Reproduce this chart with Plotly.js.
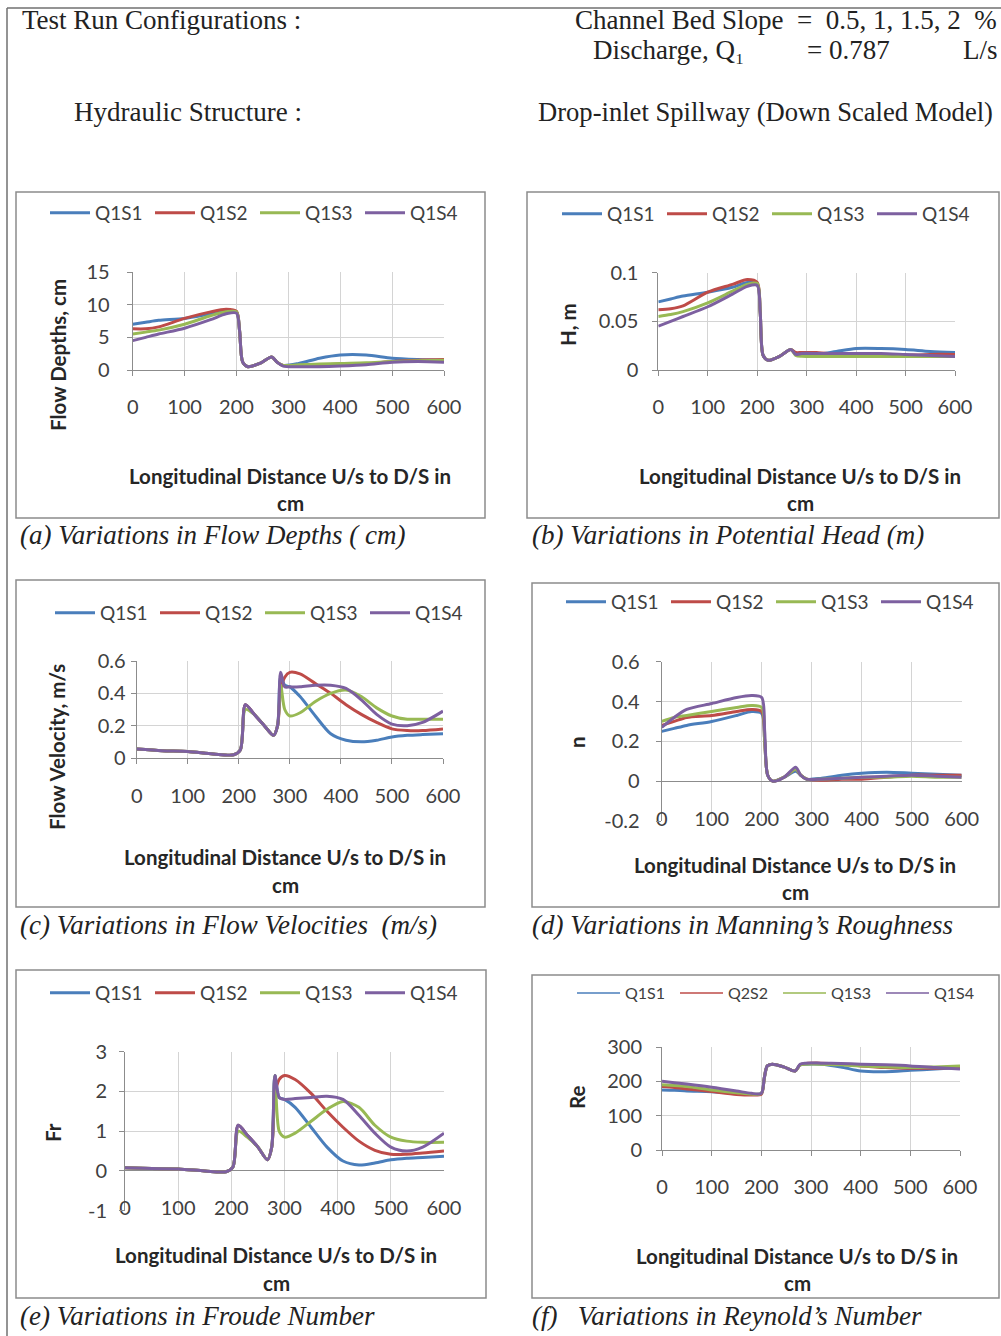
<!DOCTYPE html>
<html><head><meta charset="utf-8">
<script src="https://cdn.plot.ly/plotly-3.0.1.min.js"></script>
<style>html,body{margin:0;padding:0;background:#fff}#chart{width:1001px;height:1336px}</style>
</head><body><div id="chart"></div>
<script>
// ---------------- DATA ----------------
const seriesNames = ['Q1S1', 'Q1S2', 'Q1S3', 'Q1S4'];
const seriesNamesRe = ['Q1S1', 'Q2S2', 'Q1S3', 'Q1S4'];
const seriesColors = ['#4A7EBB', '#BE4B48', '#98B954', '#7D60A0'];

const xTicks = [0, 100, 200, 300, 400, 500, 600];

// distances (cm) for depth / head / manning / Reynolds
const xA = [0, 25, 50, 100, 150, 180, 200, 206, 212, 222, 245, 268, 278, 290, 320, 360, 400, 450, 500, 550, 600];
// distances (cm) for velocity / Froude
const xC = [0, 50, 100, 150, 190, 203, 213, 230, 250, 268, 276, 282, 290, 300, 320, 350, 380, 410, 440, 470, 500, 530, 560, 600];

// (a) Flow depths, cm
const depthQ1S1 = [7.0, 7.3, 7.6, 7.9, 8.6, 9.0, 8.9, 6.0, 1.2, 0.5, 1.0, 2.0, 1.2, 0.7, 1.0, 1.8, 2.3, 2.3, 1.8, 1.6, 1.5];
const depthQ1S2 = [6.3, 6.3, 6.6, 7.9, 8.9, 9.3, 9.0, 6.0, 1.2, 0.5, 1.0, 2.0, 1.2, 0.7, 0.7, 0.8, 0.9, 1.0, 1.3, 1.5, 1.6];
const depthQ1S3 = [5.5, 5.8, 6.1, 7.0, 8.3, 8.9, 8.9, 6.0, 1.2, 0.5, 1.0, 2.0, 1.2, 0.7, 0.8, 0.9, 1.0, 1.1, 1.3, 1.4, 1.5];
const depthQ1S4 = [4.5, 5.0, 5.5, 6.4, 7.7, 8.6, 8.7, 6.0, 1.2, 0.5, 1.0, 2.0, 1.2, 0.6, 0.5, 0.5, 0.6, 0.8, 1.2, 1.3, 1.2];

// (b) Potential head, m
const headQ1S1 = [0.070, 0.073, 0.076, 0.080, 0.085, 0.090, 0.088, 0.060, 0.015, 0.010, 0.014, 0.021, 0.017, 0.015, 0.016, 0.019, 0.022, 0.022, 0.021, 0.019, 0.018];
const headQ1S2 = [0.062, 0.063, 0.066, 0.080, 0.088, 0.093, 0.090, 0.060, 0.015, 0.010, 0.014, 0.021, 0.018, 0.018, 0.018, 0.016, 0.014, 0.014, 0.015, 0.016, 0.016];
const headQ1S3 = [0.055, 0.057, 0.060, 0.069, 0.081, 0.088, 0.089, 0.060, 0.015, 0.010, 0.014, 0.021, 0.015, 0.014, 0.014, 0.014, 0.014, 0.014, 0.014, 0.014, 0.014];
const headQ1S4 = [0.045, 0.050, 0.055, 0.065, 0.078, 0.086, 0.087, 0.060, 0.015, 0.010, 0.014, 0.021, 0.016, 0.017, 0.017, 0.017, 0.017, 0.017, 0.016, 0.015, 0.014];

// (c) Flow velocity, m/s
const velQ1S1 = [0.055, 0.045, 0.04, 0.025, 0.02, 0.05, 0.33, 0.27, 0.2, 0.14, 0.2, 0.5, 0.45, 0.44, 0.38, 0.26, 0.15, 0.11, 0.10, 0.11, 0.13, 0.14, 0.145, 0.15];
const velQ1S2 = [0.055, 0.045, 0.04, 0.025, 0.02, 0.05, 0.33, 0.27, 0.2, 0.14, 0.2, 0.42, 0.5, 0.53, 0.52, 0.46, 0.40, 0.33, 0.27, 0.22, 0.18, 0.17, 0.17, 0.18];
const velQ1S3 = [0.055, 0.045, 0.04, 0.025, 0.02, 0.05, 0.30, 0.27, 0.2, 0.14, 0.2, 0.45, 0.3, 0.26, 0.28, 0.35, 0.40, 0.42, 0.38, 0.31, 0.26, 0.24, 0.24, 0.24];
const velQ1S4 = [0.055, 0.045, 0.04, 0.025, 0.02, 0.05, 0.33, 0.27, 0.2, 0.14, 0.2, 0.53, 0.44, 0.44, 0.44, 0.45, 0.45, 0.43, 0.36, 0.27, 0.21, 0.20, 0.22, 0.29];

// (d) Manning's roughness n
const manQ1S1 = [0.25, 0.265, 0.28, 0.30, 0.33, 0.35, 0.34, 0.20, 0.03, 0.0, 0.02, 0.05, 0.03, 0.01, 0.015, 0.03, 0.04, 0.045, 0.04, 0.035, 0.03];
const manQ1S2 = [0.28, 0.30, 0.32, 0.33, 0.35, 0.36, 0.35, 0.20, 0.03, 0.0, 0.02, 0.06, 0.03, 0.01, 0.005, 0.01, 0.01, 0.02, 0.03, 0.03, 0.03];
const manQ1S3 = [0.30, 0.32, 0.33, 0.35, 0.37, 0.38, 0.37, 0.20, 0.03, 0.0, 0.02, 0.06, 0.03, 0.01, 0.01, 0.015, 0.02, 0.02, 0.025, 0.02, 0.02];
const manQ1S4 = [0.27, 0.32, 0.36, 0.39, 0.42, 0.43, 0.42, 0.25, 0.03, 0.0, 0.02, 0.07, 0.03, 0.01, 0.01, 0.015, 0.02, 0.025, 0.03, 0.025, 0.02];

// (e) Froude number
const frQ1S1 = [0.08, 0.06, 0.05, 0.0, -0.02, 0.1, 1.15, 0.9, 0.6, 0.28, 0.6, 2.4, 1.85, 1.8, 1.6, 1.1, 0.6, 0.25, 0.15, 0.2, 0.28, 0.32, 0.34, 0.37];
const frQ1S2 = [0.08, 0.06, 0.05, 0.0, -0.02, 0.1, 1.15, 0.9, 0.6, 0.28, 0.6, 1.9, 2.3, 2.4, 2.3, 1.95, 1.5, 1.1, 0.75, 0.52, 0.42, 0.42, 0.45, 0.5];
const frQ1S3 = [0.08, 0.06, 0.05, 0.0, -0.02, 0.1, 1.0, 0.85, 0.6, 0.28, 0.6, 2.4, 1.0, 0.85, 0.95, 1.25, 1.55, 1.75, 1.6, 1.15, 0.85, 0.75, 0.72, 0.72];
const frQ1S4 = [0.08, 0.06, 0.05, 0.0, -0.02, 0.1, 1.15, 0.9, 0.6, 0.28, 0.6, 2.4, 1.85, 1.8, 1.82, 1.85, 1.88, 1.8, 1.4, 0.95, 0.6, 0.5, 0.6, 0.95];

// (f) Reynolds number
const reQ1S1 = [175, 174, 172, 170, 165, 162, 165, 210, 245, 250, 242, 230, 248, 250, 250, 242, 230, 228, 232, 236, 240];
const reQ2S2 = [185, 182, 178, 170, 162, 160, 163, 210, 245, 250, 242, 230, 248, 252, 253, 250, 245, 240, 238, 238, 240];
const reQ1S3 = [190, 188, 185, 175, 167, 163, 165, 210, 245, 250, 242, 230, 248, 250, 250, 248, 245, 242, 240, 242, 245];
const reQ1S4 = [200, 196, 192, 183, 172, 165, 165, 210, 245, 250, 242, 230, 250, 253, 253, 252, 250, 248, 245, 240, 236];

// tick labels
const yTicksA = [0, 5, 10, 15];
const yTicksB = [0, 0.05, 0.1];
const yTicksC = [0, 0.2, 0.4, 0.6];
const yTicksD = [-0.2, 0, 0.2, 0.4, 0.6];
const yTickTextD = ['-0.2', '0', '0.2', '0.4', '0.6'];
const yTicksE = [-1, 0, 1, 2, 3];
const yTickTextE = ['-1', '0', '1', '2', '3'];
const yTicksF = [0, 100, 200, 300];

const xTitleLine1 = 'Longitudinal Distance U/s to D/S in';
const xTitleLine2 = 'cm';

// ---------------- LAYOUT HELPERS ----------------
const W = 1001, H = 1336;
const fx = p => p / W;
const fy = p => 1 - p / H;

const TICKFONT = {family: 'Lato, sans-serif', size: 20, color: '#404040'};
const TITLEFONT = {family: 'Lato, sans-serif', size: 20.5, color: '#262626', weight: 'bold'};
const SERIF = 'Liberation Serif, Times New Roman, serif';

const panels = [
  {id: '', plot: [132.7, 444, 272, 370], yr: [0, 15], yt: yTicksA, ytt: null, sets: [depthQ1S1, depthQ1S2, depthQ1S3, depthQ1S4], xs: xA, names: seriesNames,
   leg: [45, 213], ytitle: 'Flow Depths, cm', ytp: [58, 355], xtp: [290, 476, 503], cap: '(a) Variations in Flow Depths ( cm)', capp: [18, 535], box: [16, 485, 192, 518], low: false, xstand: 14, ystand: 13},
  {id: '2', plot: [658.3, 955, 272.7, 370], yr: [0, 0.1], yt: yTicksB, ytt: null, sets: [headQ1S1, headQ1S2, headQ1S3, headQ1S4], xs: xA, names: seriesNames,
   leg: [557, 214], ytitle: 'H, m', ytp: [568, 325], xtp: [800, 476, 503], cap: '(b) Variations in Potential Head (m)', capp: [530, 535], box: [527, 999, 192, 518], low: false, xstand: 14, ystand: 10},
  {id: '3', plot: [136.7, 443, 661, 758], yr: [0, 0.6], yt: yTicksC, ytt: null, sets: [velQ1S1, velQ1S2, velQ1S3, velQ1S4], xs: xC, names: seriesNames,
   leg: [50, 613], ytitle: 'Flow Velocity, m/s', ytp: [57, 747], xtp: [285, 857, 885], cap: '(c) Variations in Flow Velocities  (m/s)', capp: [18, 925], box: [16, 485, 580, 907], low: false, xstand: 15, ystand: 1},
  {id: '4', plot: [661.7, 961.7, 661.7, 821], yr: [-0.2, 0.6], yt: yTicksD, ytt: yTickTextD, sets: [manQ1S1, manQ1S2, manQ1S3, manQ1S4], xs: xA, names: seriesNames,
   leg: [561, 602], ytitle: 'n', ytp: [577, 742], xtp: [795, 865, 892], cap: '(d) Variations in Manning\u2019s Roughness', capp: [530, 925], box: [532, 999, 583, 907], low: true, xstand: -16, ystand: 12},
  {id: '5', plot: [125, 444, 1051.7, 1210.7], yr: [-1, 3], yt: yTicksE, ytt: yTickTextE, sets: [frQ1S1, frQ1S2, frQ1S3, frQ1S4], xs: xC, names: seriesNames,
   leg: [45, 993], ytitle: 'Fr', ytp: [53, 1133], xtp: [276, 1255, 1283], cap: '(e) Variations in Froude Number', capp: [18, 1316], box: [16, 486, 970, 1298], low: true, xstand: -17, ystand: 8},
  {id: '6', plot: [662, 960, 1047, 1150], yr: [0, 300], yt: yTicksF, ytt: null, sets: [reQ1S1, reQ2S2, reQ1S3, reQ1S4], xs: xA, names: seriesNamesRe,
   leg: [572, 993], ytitle: 'Re', ytp: [577, 1098], xtp: [797, 1256, 1283], cap: '(f)\u00a0\u00a0 Variations in Reynold\u2019s Number', capp: [530, 1316], box: [532, 999, 975, 1298], low: false, xstand: 14, ystand: 10}
];

const traces = [];
const layout = {
  width: W, height: H,
  margin: {l: 0, r: 0, t: 0, b: 0},
  paper_bgcolor: '#ffffff', plot_bgcolor: '#ffffff',
  showlegend: true,
  shapes: [], annotations: []
};

panels.forEach((p, i) => {
  const isRe = (i === 5);
  const legName = 'legend' + p.id;
  p.sets.forEach((ys, k) => {
    traces.push({
      type: 'scatter', mode: 'lines', x: p.xs, y: ys, name: p.names[k],
      xaxis: 'x' + p.id, yaxis: 'y' + p.id,
      line: {color: seriesColors[k], width: 3, shape: 'spline', smoothing: 0.8},
      legend: legName, showlegend: !isRe, hoverinfo: 'x+y+name'
    });
  });
  if (isRe) {
    p.names.forEach((nm, k) => {
      traces.push({
        type: 'scatter', mode: 'lines', x: [null], y: [null], name: nm,
        xaxis: 'x' + p.id, yaxis: 'y' + p.id,
        line: {color: seriesColors[k], width: 1.5}, legend: legName, showlegend: true
      });
    });
  }
  const [l, r, t, b] = p.plot;
  layout['xaxis' + p.id] = {
    domain: [fx(l), fx(r)], range: [0, 600], tickvals: xTicks, ticktext: xTicks.map(String),
    anchor: 'y' + p.id, showgrid: true, gridcolor: '#d4d4d4', gridwidth: 1,
    showline: !p.low, linecolor: '#8c8c8c', linewidth: 1,
    ticks: p.low ? '' : 'outside', ticklen: 5, tickcolor: '#8c8c8c',
    ticklabelstandoff: p.xstand, tickfont: TICKFONT, zeroline: false, fixedrange: true
  };
  layout['yaxis' + p.id] = {
    domain: [fy(b), fy(t)], range: p.yr, tickvals: p.yt, ticktext: p.ytt ? p.ytt : p.yt.map(String),
    anchor: 'x' + p.id, showgrid: true, gridcolor: '#d4d4d4', gridwidth: 1,
    showline: true, linecolor: '#8c8c8c', linewidth: 1,
    ticks: 'outside', ticklen: 5, tickcolor: '#8c8c8c',
    ticklabelstandoff: p.ystand, tickfont: TICKFONT,
    zeroline: p.low, zerolinecolor: '#8c8c8c', zerolinewidth: 1, fixedrange: true
  };
  layout[legName] = {
    orientation: 'h', x: fx(p.leg[0]), y: fy(p.leg[1]), xanchor: 'left', yanchor: 'middle',
    bgcolor: 'rgba(0,0,0,0)', borderwidth: 0,
    font: isRe ? {family: 'Lato, sans-serif', size: 16, color: '#404040'} : {family: 'Lato, sans-serif', size: 19, color: '#404040'},
    itemwidth: isRe ? 43 : 40,
    entrywidth: isRe ? 45 : 50, entrywidthmode: 'pixels', traceorder: 'normal',
    itemclick: false, itemdoubleclick: false
  };
  // panel frame
  const [bl, br, bt, bb] = p.box;
  layout.shapes.push({type: 'rect', xref: 'paper', yref: 'paper', x0: fx(bl), x1: fx(br), y0: fy(bb), y1: fy(bt),
    line: {color: '#8c8c8c', width: 1.5}, fillcolor: 'rgba(0,0,0,0)'});
  // axis titles
  layout.annotations.push({xref: 'paper', yref: 'paper', x: fx(p.ytp[0]), y: fy(p.ytp[1]), text: p.ytitle,
    textangle: -90, showarrow: false, xanchor: 'center', yanchor: 'middle', font: TITLEFONT});
  layout.annotations.push({xref: 'paper', yref: 'paper', x: fx(p.xtp[0]), y: fy(p.xtp[1]), text: xTitleLine1,
    showarrow: false, xanchor: 'center', yanchor: 'middle', font: TITLEFONT});
  layout.annotations.push({xref: 'paper', yref: 'paper', x: fx(p.xtp[0]), y: fy(p.xtp[2]), text: xTitleLine2,
    showarrow: false, xanchor: 'center', yanchor: 'middle', font: TITLEFONT});
  // caption
  layout.annotations.push({xref: 'paper', yref: 'paper', x: fx(p.capp[0]), y: fy(p.capp[1]), text: p.cap,
    showarrow: false, xanchor: 'left', yanchor: 'middle',
    font: {family: SERIF, size: 27, color: '#222222', style: 'italic'}});
});

// outer frame lines
layout.shapes.push({type: 'line', xref: 'paper', yref: 'paper', x0: fx(7), x1: fx(1001), y0: fy(8), y1: fy(8), line: {color: '#707070', width: 1.5}});
layout.shapes.push({type: 'line', xref: 'paper', yref: 'paper', x0: fx(7), x1: fx(7), y0: fy(8), y1: fy(1336), line: {color: '#707070', width: 1.5}});

// header texts: [text, left px, centre y px, font size]
const header = [
  ['Test Run Configurations :', 20, 20, 27],
  ['Channel Bed Slope\u00a0 =\u00a0 0.5, 1, 1.5, 2\u00a0 %', 573, 20, 27],
  ['Discharge, Q\u2081', 591, 50, 27],
  ['= 0.787', 805, 50, 27],
  ['L/s', 961, 50, 27],
  ['Hydraulic Structure :', 72, 112, 27],
  ['Drop-inlet Spillway (Down Scaled Model)', 536, 112, 26.6]
];
header.forEach(h => layout.annotations.push({xref: 'paper', yref: 'paper', x: fx(h[1]), y: fy(h[2]), text: h[0],
  showarrow: false, xanchor: 'left', yanchor: 'middle', font: {family: SERIF, size: h[3], color: '#222222'}}));

Plotly.newPlot('chart', traces, layout, {displayModeBar: false, staticPlot: true});
</script>
</body></html>
